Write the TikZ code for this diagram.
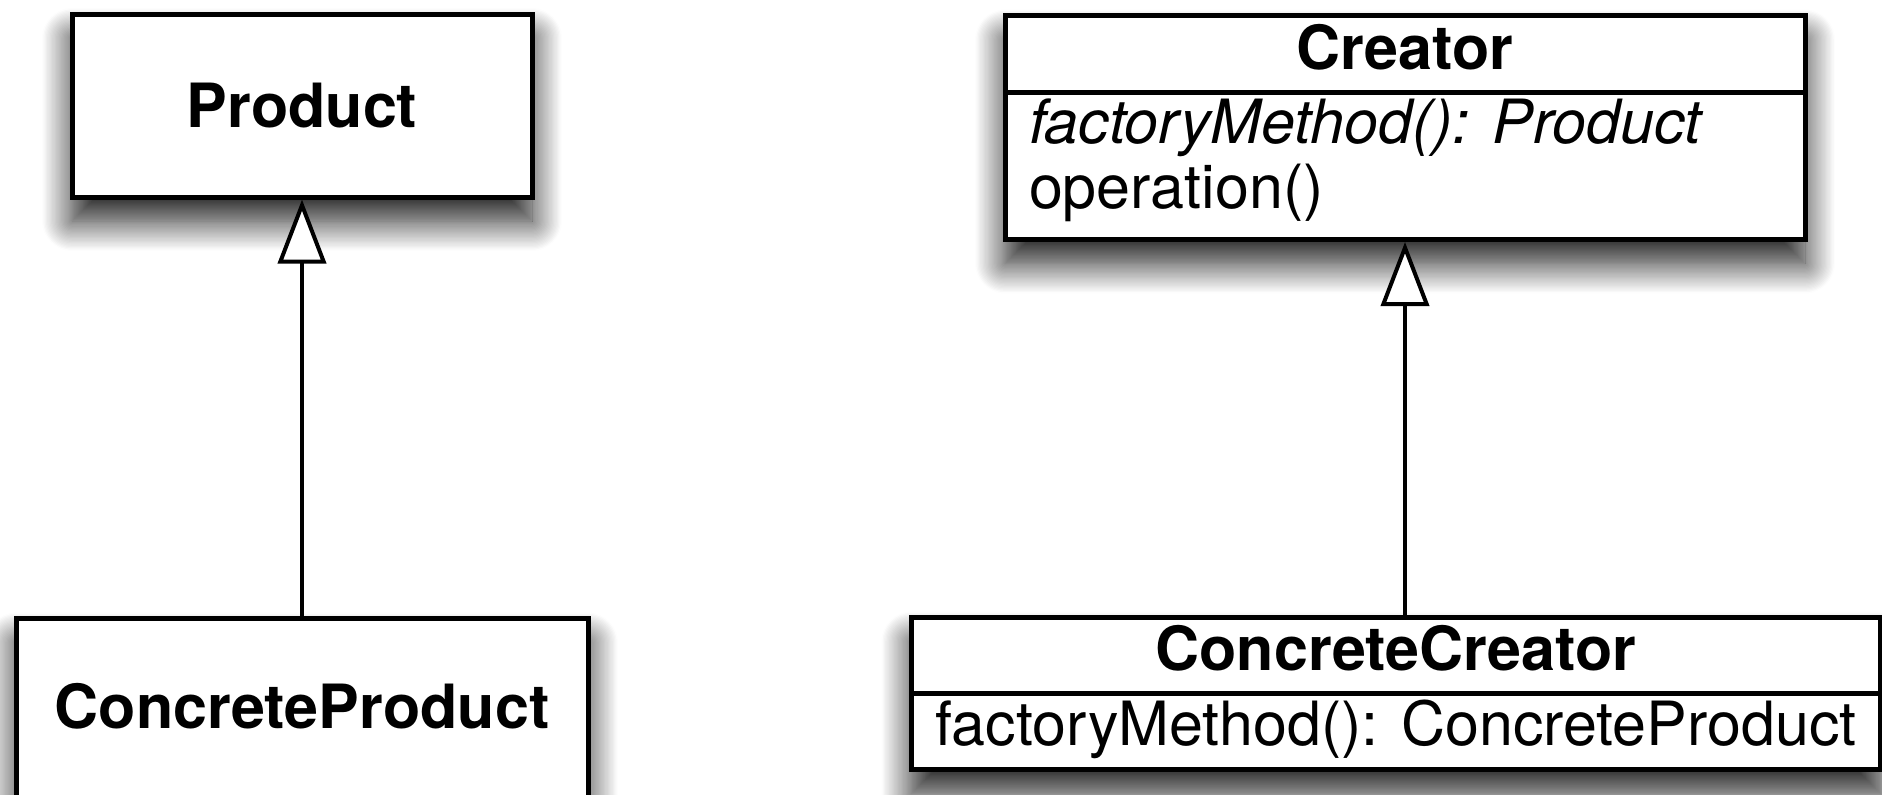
\documentclass[tikz,border=0pt]{standalone}
\usepackage{fontspec}
\setmainfont{TeX Gyre Heros}
\usetikzlibrary{arrows.meta}
\usetikzlibrary{shapes.multipart}
\usetikzlibrary{shadows.blur}

\newcommand{\umlstrut}[2]{\rule[-#2]{0pt}{\dimexpr #1+#2\relax}}

\tikzset{
  umlbox/.style={draw, line width=2.5pt, fill=white, inner sep=0pt,
    font=\fontsize{30.5pt}{32.5pt}\selectfont,
    blur shadow={shadow xshift=0pt, shadow yshift=-12pt, shadow blur radius=15pt,
      shadow blur steps=24, shadow opacity=90}},
  umlclass/.style={umlbox, rectangle split, rectangle split parts=2,
    rectangle split part align={center,left}, inner xsep=12pt},
  extends/.style={line width=2pt, -{Triangle[open, length=32pt, width=24pt, fill=white]}}
}

\begin{document}
\begin{tikzpicture}[x=0.5pt, y=-0.5pt]
\useasboundingbox (0,0) rectangle (1882,794);
\node[umlbox, minimum width=230pt, minimum height=91.5pt] (product) at (302,105.5) {\bfseries Product};
\node[umlbox, minimum width=286pt, anchor=north, text height=55pt, text depth=100pt] (cproduct) at (302,616) {\bfseries ConcreteProduct};
\node[umlclass, minimum width=400pt, anchor=north] (creator) at (1405,13)
  {\umlstrut{25.5pt}{10.5pt}\bfseries Creator
   \nodepart{second}\parbox[t]{370pt}{\umlstrut{24pt}{0pt}\textit{factoryMethod(): Product}\\operation()\umlstrut{0pt}{14.5pt}}};
\node[umlclass, minimum width=484pt, anchor=north] (ccreator) at (1396,615)
  {\umlstrut{25pt}{10.5pt}\bfseries ConcreteCreator
   \nodepart{second}\umlstrut{24.5pt}{11pt}factoryMethod(): ConcreteProduct};
\draw[extends] (cproduct) -- (product);
\draw[extends] (ccreator.north -| creator.south) -- (creator.south);
\end{tikzpicture}
\end{document}
